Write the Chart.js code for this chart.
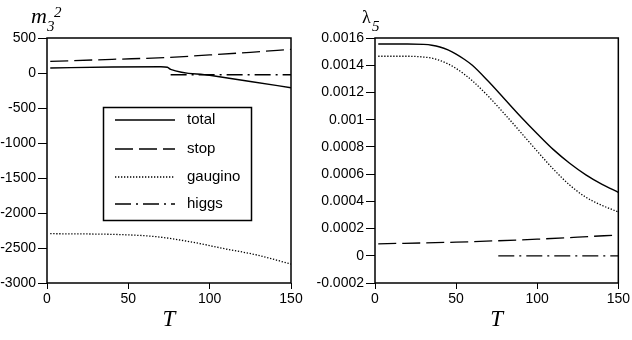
<!DOCTYPE html>
<html>
<head>
<meta charset="utf-8">
<script src="https://cdn.jsdelivr.net/npm/chart.js@4.4.1/dist/chart.umd.min.js"></script>
<style>
  body { margin: 0; background: #fff; }
  #wrap { position: relative; width: 632px; height: 340px; }
  canvas { position: absolute; top: 0; }
</style>
</head>
<body>
<div id="wrap">
  <canvas id="m3sq" width="316" height="340" style="left:0"></canvas>
  <canvas id="lambda5" width="322" height="340" style="left:310px"></canvas>
</div>
<script>
// left panel: m3^2 vs T
const tTotalLeft = [2, 40, 70, 74, 76, 100, 125, 150];
const totalLeft = [72, 85, 90, 82, 52, -33, -122, -210];
const tStopLeft = [2, 40, 75, 100, 125, 150];
const stopLeft = [165, 195, 222, 258, 296, 338];
const tGauginoLeft = [2, 47, 67, 88, 108, 129, 150];
const gauginoLeft = [-2295, -2310, -2338, -2410, -2505, -2600, -2730];
const tHiggsLeft = [76, 150];
const higgsLeft = [-25, -25];

// right panel: lambda5 vs T
const tRight = [2, 20, 30, 35, 40, 45, 50, 55, 60, 70, 80, 90, 100, 110, 120, 130, 140, 150];
const totalRight = [0.001556, 0.001556, 0.001553, 0.001547, 0.001534, 0.001512, 0.001482, 0.001444, 0.0014, 0.00128, 0.00115, 0.00102, 0.000897, 0.00078, 0.00068, 0.000595, 0.000525, 0.000466];
const gauginoRight = [0.001466, 0.001466, 0.00146, 0.001452, 0.001435, 0.00141, 0.001376, 0.001334, 0.001286, 0.00117, 0.00104, 0.000905, 0.000768, 0.000636, 0.00052, 0.00043, 0.00037, 0.000322];
const tStopRight = [2, 50, 75, 100, 125, 150];
const stopRight = [0.000088, 0.0001, 0.00011, 0.000122, 0.000137, 0.000153];
const tHiggsRight = [76, 150];
const higgsRight = [0, 0];

const legendNames = ['total', 'stop', 'gaugino', 'higgs'];
const xTicks = [0, 50, 100, 150];

const sans = '"Liberation Sans", Arial, sans-serif';
const serif = '"Liberation Serif", "Times New Roman", serif';

function pts(xs, ys) {
    return xs.map((x, i) => ({x: x, y: ys[i]}));
}

function lineSet(label, xs, ys, dash, width) {
    return {
        label: label,
        data: pts(xs, ys),
        borderColor: '#000',
        borderWidth: width,
        borderDash: dash,
        pointRadius: 0,
        cubicInterpolationMode: 'monotone',
        fill: false
    };
}

const frame = {
    id: 'frame',
    afterDraw(chart) {
        const a = chart.chartArea, ctx = chart.ctx;
        ctx.save();
        ctx.strokeStyle = '#000';
        ctx.lineWidth = 1.5;
        ctx.strokeRect(a.left, a.top, a.right - a.left, a.bottom - a.top);
        ctx.restore();
    }
};

function scales(yMin, yMax, yStep, yWidth, fmt) {
    return {
        x: {
            type: 'linear', min: 0, max: 150,
            afterBuildTicks: s => { s.ticks = xTicks.map(v => ({value: v})); },
            afterFit: s => { s.height = 57; },
            grid: {drawOnChartArea: false, tickLength: 6, color: '#000'},
            border: {display: false},
            ticks: {color: '#000', padding: 2, font: {family: sans, size: 14}, maxRotation: 0},
            title: {display: true, text: 'T', color: '#000', padding: {top: 0, bottom: 9},
                    font: {family: serif, size: 23, style: 'italic', lineHeight: 1}}
        },
        y: {
            min: yMin, max: yMax,
            afterFit: s => { s.width = yWidth; },
            grid: {drawOnChartArea: false, tickLength: 9, color: '#000'},
            border: {display: false},
            ticks: {stepSize: yStep, color: '#000', padding: 2, font: {family: sans, size: 14}, callback: fmt}
        }
    };
}

// left chart
new Chart(document.getElementById('m3sq'), {
    type: 'line',
    data: {
        datasets: [
            lineSet(legendNames[0], tTotalLeft, totalLeft, [], 1.4),
            lineSet(legendNames[1], tStopLeft, stopLeft, [18, 6], 1.3),
            lineSet(legendNames[2], tGauginoLeft, gauginoLeft, [1.3, 1.7], 1.3),
            lineSet(legendNames[3], tHiggsLeft, higgsLeft, [16, 5, 2, 5], 1.3)
        ]
    },
    options: {
        responsive: false,
        animation: false,
        layout: {padding: {top: 38, right: 25, left: 0, bottom: 0}},
        scales: scales(-3000, 500, 500, 47, v => String(v)),
        plugins: {legend: {display: false}, tooltip: {enabled: false}}
    },
    plugins: [frame, {
        id: 'labels',
        afterDraw(chart) {
            const ctx = chart.ctx;
            ctx.save();
            ctx.fillStyle = '#000';
            ctx.textBaseline = 'alphabetic';
            ctx.font = 'italic 22px ' + serif;
            ctx.fillText('m', 31, 23);
            ctx.font = 'italic 15px ' + serif;
            ctx.fillText('3', 47, 31);
            ctx.fillText('2', 54, 17);

            // legend box
            ctx.strokeStyle = '#000';
            ctx.lineWidth = 1.5;
            ctx.strokeRect(103.5, 107.5, 148, 113);
            const rows = [120, 149, 177, 204];
            ctx.font = '15px ' + sans;
            ctx.textBaseline = 'middle';
            chart.data.datasets.forEach((ds, i) => {
                ctx.lineWidth = ds.borderWidth;
                ctx.setLineDash(ds.borderDash);
                ctx.beginPath();
                ctx.moveTo(115, rows[i]);
                ctx.lineTo(175, rows[i]);
                ctx.stroke();
                ctx.setLineDash([]);
                ctx.fillText(ds.label, 187, rows[i]);
            });
            ctx.restore();
        }
    }]
});

// right chart
new Chart(document.getElementById('lambda5'), {
    type: 'line',
    data: {
        datasets: [
            lineSet(legendNames[0], tRight, totalRight, [], 1.4),
            lineSet(legendNames[1], tStopRight, stopRight, [18, 6], 1.3),
            lineSet(legendNames[2], tRight, gauginoRight, [1.3, 1.7], 1.3),
            lineSet(legendNames[3], tHiggsRight, higgsRight, [16, 5, 2, 5], 1.3)
        ]
    },
    options: {
        responsive: false,
        animation: false,
        layout: {padding: {top: 38, right: 12, left: 0, bottom: 0}},
        scales: scales(-0.0002, 0.0016, 0.0002, 65, v => String(Number(v.toFixed(4)))),
        plugins: {legend: {display: false}, tooltip: {enabled: false}}
    },
    plugins: [frame, {
        id: 'labels',
        afterDraw(chart) {
            const ctx = chart.ctx;
            ctx.save();
            ctx.fillStyle = '#000';
            ctx.font = '18px ' + serif;
            ctx.fillText('λ', 52, 23);
            ctx.font = 'italic 15px ' + serif;
            ctx.fillText('5', 62, 31);
            ctx.restore();
        }
    }]
});
</script>
</body>
</html>
